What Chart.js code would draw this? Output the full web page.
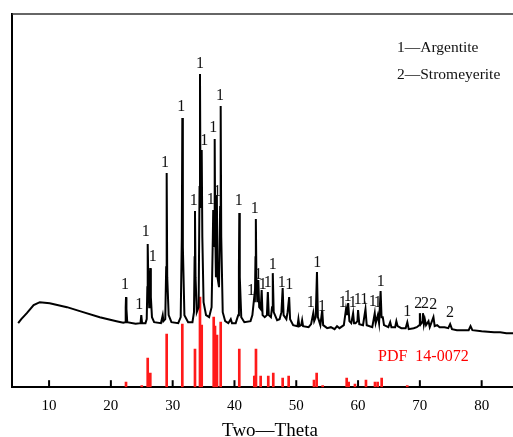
<!DOCTYPE html>
<html>
<head>
<meta charset="utf-8">
<script src="https://cdn.jsdelivr.net/npm/chart.js@4/dist/chart.umd.min.js"></script>
<style>
html,body{margin:0;padding:0;background:#fff;overflow:hidden;width:513px;height:437px;}
canvas{display:block;}
</style>
</head>
<body>
<canvas id="c" width="530" height="442"></canvas>
<script>
// ---- data ----
// measured XRD pattern: [2theta, intensity (a.u.)]
const patternTheta = [
5.0,5.5,6.4,7.5,8.5,10.1,12.9,15.5,18.2,20.9,22.0,
22.3,22.4,22.45,22.52,22.65,24.0,24.8,24.92,25.05,25.6,25.8,
25.9,25.96,26.05,26.2,26.3,26.38,26.47,26.65,27.0,28.1,28.39,28.5,28.8,
28.95,29.03,29.12,29.35,29.8,30.9,31.3,31.48,31.56,31.65,31.9,32.5,33.2,33.45,
33.55,33.61,33.7,33.9,34.2,34.35,34.42,34.5,34.62,34.7,34.8,35.0,35.4,35.9,36.3,
36.5,36.56,36.64,36.74,36.8,36.88,37.0,37.1,37.15,37.25,37.5,
37.68,37.77,37.86,38.1,38.5,39.0,39.4,39.6,40.2,40.6,40.72,40.78,40.86,41.1,41.6,
42.6,42.9,43.2,43.3,43.4,43.46,43.55,43.7,43.86,44.0,44.25,44.4,44.55,44.9,
45.25,45.4,45.55,45.9,46.08,46.2,46.35,46.9,47.3,47.6,47.8,47.95,48.4,48.6,48.85,49.0,49.5,
50.2,50.35,50.5,50.8,50.95,51.1,52.0,52.4,52.75,52.9,53.15,53.35,53.5,53.9,54.2,54.35,
55.0,55.6,56.2,56.6,57.0,57.7,58.05,58.2,58.4,58.6,58.9,59.2,59.35,59.6,59.9,60.0,60.2,60.8,
61.2,61.4,62.3,62.7,62.85,63.2,63.4,63.65,63.8,64.0,64.2,64.9,65.2,65.4,66.0,66.2,66.4,67.0,
67.7,67.97,68.2,69.0,69.5,69.9,70.0,70.15,70.4,70.5,70.65,70.8,71.0,71.4,71.6,
72.2,72.4,72.8,73.2,74.0,74.6,74.9,75.2,76.0,77.0,77.9,78.2,78.5,80.0,81.0,82.0,83.0,84.0,85.0,87.5
];
const patternIntensity = [
64,68,74,82,85,84,80,75,70,66,64.5,
65,80,90,78,65,63.5,64,72,64,64,68,
100,143,110,80,105,119,90,70,65,64,72,66,68,
120,214,110,72,65,64,70,150,269,140,72,65,65,75,
130,176,110,75,80,200,313,200,180,237,150,85,72,70,80,
150,177,140,170,248,160,110,150,192,110,100,
180,281,150,75,66,64,68,64,64,72,120,174,110,70,65,
66,72,90,85,130,168,110,85,107,80,78,97,72,70,
72,95,72,70,80,114,75,67,68,75,99,72,68,75,90,68,62,
61,68,61,62,67,61,60,63,74,66,70,115,70,62,77,62,
59,60,58,61,59,62,78,72,84,66,64,74,64,64,66,77,63,62,
78,62,60,74,64,72,64,96,70,70,62,60,65,60,60,66,61,59,
59,65,58,59,60,62,74,63,65,74,63,68,62,66,60,
70,61,62,60,60,59,63,58,57,57,57,61,57,56,55.5,55,55,54,54,53
];
// reference pattern PDF 14-0072 (stick positions and heights)
const pdfTheta = [22.45,25.0,25.96,26.38,29.03,31.56,33.61,34.42,34.70,36.64,36.85,37.17,37.77,
40.78,43.21,43.37,43.48,44.24,45.47,46.28,47.80,48.77,52.87,53.30,54.27,58.16,58.48,59.50,
61.28,62.74,63.17,63.82,67.96];
const pdfIntensity = [5,1.5,29,14,53,63,38,90,62,70,61,52,65,
38,11,11,38,11,11,14,9,11,7,14,1.5,9,5,3,
7,5,5,9,1.5];
// phase marks: 1 = Argentite, 2 = Stromeyerite
const markTheta = [22.29,24.6,25.63,26.77,28.76,31.4,33.4,34.42,35.12,36.15,36.57,37.22,37.66,
40.68,43.27,42.67,43.86,44.57,45.37,46.18,47.64,48.87,52.33,53.4,54.16,
57.51,58.32,59.13,59.94,61.01,62.37,63.17,63.66,67.97,69.74,70.83,72.17,74.87];
const markHeight = [102,82,155,130,224,280,186,323,246,187,259,195,291,
186,178,96,112,102,104,122,104,102,84,124,80,
84,90,84,87,87,85,84,105,75,83,83,82,74];
const markPhase = ['1','1','1','1','1','1','1','1','1','1','1','1','1',
'1','1','1','1','1','1','1','1','1','1','1','1',
'1','1','1','1','1','1','1','1','1','2','2','2','2'];
const xTickValues = [10,20,30,40,50,60,70,80];
const legendLines = ['1\u2014Argentite','2\u2014Stromeyerite'];
const pdfLabel = 'PDF  14-0072';
const xTitle = 'Two\u2014Theta';

// ---- chart ----
const SERIF = '"Liberation Serif", "Times New Roman", serif';
const patternData = patternTheta.map((t,i)=>({x:t,y:patternIntensity[i]}));
const pdfData = pdfTheta.map((t,i)=>({x:t,y:pdfIntensity[i]}));

const decor = {
  id:'decor',
  afterDatasetsDraw(chart){
    const ctx = chart.ctx, xs = chart.scales.x, ys = chart.scales.y, a = chart.chartArea;
    ctx.save();
    // frame top line
    ctx.strokeStyle = '#333'; ctx.lineWidth = 1.5;
    ctx.beginPath(); ctx.moveTo(a.left, a.top); ctx.lineTo(a.right, a.top); ctx.stroke();
    // inward ticks
    ctx.strokeStyle = '#000'; ctx.lineWidth = 2;
    xs.ticks.forEach(tk=>{
      const px = xs.getPixelForValue(tk.value);
      ctx.beginPath(); ctx.moveTo(px, a.bottom); ctx.lineTo(px, a.bottom-7); ctx.stroke();
    });
    // phase marks
    ctx.fillStyle = '#111';
    ctx.font = '16px ' + SERIF;
    ctx.textAlign = 'center'; ctx.textBaseline = 'middle';
    markTheta.forEach((t,i)=>{
      ctx.fillText(markPhase[i], xs.getPixelForValue(t), ys.getPixelForValue(markHeight[i]));
    });
    // legend text
    ctx.textAlign = 'left';
    ctx.font = '15.5px ' + SERIF;
    ctx.fillText(legendLines[0], a.left + 385, a.top + 34);
    ctx.fillText(legendLines[1], a.left + 385, a.top + 61);
    // PDF label
    ctx.fillStyle = '#ff0000';
    ctx.font = '16px ' + SERIF;
    ctx.fillText(pdfLabel, a.left + 366, a.top + 343);
    ctx.restore();
  }
};

new Chart(document.getElementById('c'), {
  type:'line',
  data:{
    datasets:[
      {type:'line', data:patternData, borderColor:'#000', borderWidth:2, pointRadius:0, tension:0, fill:false, order:1},
      {type:'bar', data:pdfData, backgroundColor:'#ff1a1a', borderWidth:0, barThickness:2, order:2}
    ]
  },
  options:{
    responsive:false, animation:false,
    layout:{padding:{left:12, top:14, right:2, bottom:0}},
    plugins:{legend:{display:false}, tooltip:{enabled:false}},
    scales:{
      x:{type:'linear', min:4, max:87.5, offset:false,
         afterBuildTicks(s){ s.ticks = xTickValues.map(v=>({value:v})); },
         grid:{display:false, drawTicks:false},
         border:{display:true, color:'#000', width:2},
         ticks:{color:'#000', padding:10, font:{family:SERIF, size:15}, maxRotation:0, autoSkip:false},
         title:{display:true, text:xTitle, color:'#000', font:{family:SERIF, size:19}, padding:{top:-6,bottom:0}}
      },
      y:{type:'linear', min:0, max:373,
         grid:{display:false, drawTicks:false},
         border:{display:true, color:'#000', width:2},
         ticks:{display:false}
      }
    }
  },
  plugins:[decor]
});
</script>
</body>
</html>
